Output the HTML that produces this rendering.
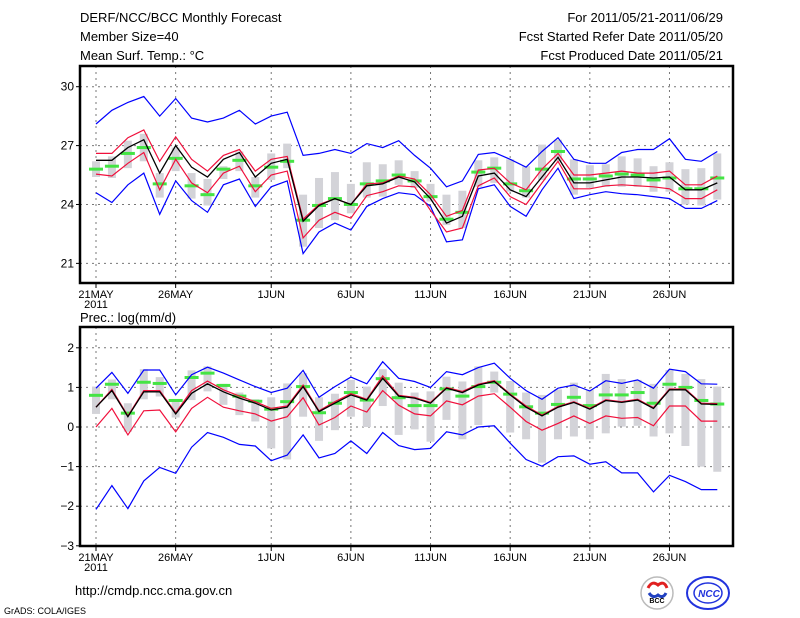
<!DOCTYPE html>
<html><head><meta charset="utf-8"><style>
body{margin:0;background:#fff;width:800px;height:618px;overflow:hidden}
svg{display:block}
text{font-family:"Liberation Sans",sans-serif;fill:#000}
</style></head><body>
<svg id="c" width="800" height="618" xmlns="http://www.w3.org/2000/svg">
<text x="80" y="22" font-size="13">DERF/NCC/BCC Monthly Forecast</text>
<text x="80" y="41" font-size="13">Member Size=40</text>
<text x="80" y="60" font-size="13">Mean Surf. Temp.: °C</text>
<text x="723" y="22" font-size="13" text-anchor="end">For 2011/05/21-2011/06/29</text>
<text x="723" y="41" font-size="13" text-anchor="end">Fcst Started Refer Date 2011/05/20</text>
<text x="723" y="60" font-size="13" text-anchor="end">Fcst Produced Date 2011/05/21</text>
<text x="80" y="322" font-size="13">Prec.: log(mm/d)</text>
<text x="75" y="595" font-size="13">http://cmdp.ncc.cma.gov.cn</text>
<text x="4" y="614" font-size="9">GrADS: COLA/IGES</text>
<g>
<circle cx="657" cy="593" r="16" fill="#fff" stroke="#bbb" stroke-width="1.5"/>
<path d="M648 588 q4 -8 10 -3 q6 -5 9 3" fill="none" stroke="#e02020" stroke-width="3"/>
<path d="M649 593 q4 6 9 2 q5 4 8 -2" fill="none" stroke="#2040c0" stroke-width="3"/>
<text x="657" y="603" font-size="7" text-anchor="middle" font-family="Liberation Serif,serif" font-weight="bold">BCC</text>
</g>
<g>
<ellipse cx="708" cy="593" rx="21" ry="16" fill="#fff" stroke="#2233dd" stroke-width="2"/>
<ellipse cx="708" cy="593" rx="14" ry="10" fill="none" stroke="#2233dd" stroke-width="1.5"/>
<text x="709" y="597" font-size="10" text-anchor="middle" font-style="italic" font-weight="bold" style="fill:#2233dd">NCC</text>
</g>
</svg>
<script>
// ---- Top panel: temperature ----
const days = ["21MAY","","","","","26MAY","","","","","","1JUN","","","","","6JUN","","","","","11JUN","","","","","16JUN","","","","","21JUN","","","","","26JUN","","",""];
const tTicks = [30,27,24,21];
const tBlueUp = [28.1,28.8,29.2,29.5,28.5,29.4,28.4,28.2,28.4,28.8,28.1,28.5,28.7,26.5,26.6,26.8,26.6,27.1,26.9,27.25,26.5,25.85,24.9,25.2,26.55,26.65,26.3,25.9,26.7,27.4,26.3,26.1,26.1,26.65,26.8,26.8,27.35,26.3,26.2,26.7];
const tBlueLo = [24.6,24.1,25.0,25.6,23.5,25.2,24.2,23.6,25.0,25.3,23.9,24.9,25.2,21.5,22.6,23.05,22.7,23.9,24.3,24.6,24.5,23.9,22.1,22.2,24.8,25.0,23.9,23.4,24.75,25.85,24.3,24.5,24.65,24.55,24.5,24.4,24.3,23.8,23.8,24.2];
const tRedUp = [26.6,26.6,27.4,27.8,26.2,27.45,26.3,25.7,26.5,26.8,25.7,26.3,26.45,23.25,24.0,24.3,24.0,25.05,25.1,25.45,25.3,24.5,23.4,23.7,25.75,25.85,25.1,24.75,25.8,26.6,25.5,25.5,25.6,25.7,25.6,25.6,25.7,25.0,25.0,25.45];
const tRedLo = [25.55,25.45,26.1,26.65,24.75,26.3,25.1,24.6,25.6,25.95,24.65,25.5,25.7,22.3,23.2,23.6,23.3,24.45,24.65,24.95,24.9,23.7,22.6,22.8,24.95,25.35,24.4,24.0,25.1,26.2,24.8,24.8,24.95,25.0,24.95,24.9,24.8,24.3,24.3,24.75];
const tMean = [26.25,26.25,26.9,27.3,25.6,27.0,25.9,25.4,26.3,26.65,25.4,26.1,26.3,23.15,23.95,24.3,24.0,24.95,25.05,25.4,25.15,24.3,23.05,23.4,25.45,25.6,24.75,24.4,25.4,26.4,25.1,25.1,25.25,25.4,25.4,25.35,25.4,24.75,24.75,25.1];
const tGreen = [25.8,25.95,26.6,26.9,25.05,26.35,24.95,24.5,25.8,26.25,24.95,25.9,26.2,23.2,23.95,24.3,24.0,25.05,25.2,25.5,25.2,24.4,23.25,23.6,25.65,25.85,25.05,24.7,25.8,26.7,25.3,25.3,25.45,25.55,25.5,25.25,25.35,24.8,24.8,25.35];
const tBoxHi = [26.2,26.45,27.25,27.6,25.6,26.9,25.6,25.3,25.95,26.7,25.4,26.6,27.1,24.5,25.35,25.65,25.05,26.15,26.05,26.25,25.7,25.05,24.5,24.7,26.25,26.4,26.3,25.95,27.05,27.3,26.3,26.0,26.05,26.45,26.35,25.95,26.15,25.8,25.85,26.6];
const tBoxLo = [25.4,25.35,25.85,26.2,24.35,25.7,24.3,23.95,25.3,25.7,24.35,25.25,25.85,21.85,22.8,23.2,23.55,24.35,24.4,25.0,24.85,24.15,22.95,22.8,24.9,25.1,24.65,24.35,25.25,26.2,24.5,24.85,24.9,24.9,24.9,24.65,24.65,24.0,23.95,24.25];
// ---- Bottom panel: precipitation ----
const pTicks = [2,1,0,-1,-2,-3];
const pBlueUp = [0.98,1.38,0.85,1.44,1.44,0.81,1.32,1.51,1.36,1.19,1.02,0.87,0.98,1.43,0.75,1.02,1.26,1.09,1.65,1.23,1.15,1.0,1.4,1.32,1.5,1.61,1.23,0.92,0.7,0.98,1.06,0.91,1.17,1.1,1.19,0.98,1.46,1.4,1.09,1.08];
const pBlueLo = [-2.08,-1.48,-2.06,-1.36,-1.02,-1.17,-0.51,-0.14,-0.26,-0.44,-0.48,-0.85,-0.71,-0.2,-0.78,-0.67,-0.35,-0.67,-0.14,-0.47,-0.57,-0.54,-0.12,-0.2,0.0,0.03,-0.41,-0.82,-0.99,-0.75,-0.73,-0.94,-0.88,-1.16,-1.16,-1.64,-1.22,-1.38,-1.58,-1.58];
const pRedUp = [0.5,0.95,0.28,0.92,0.92,0.36,0.92,1.16,0.94,0.78,0.64,0.47,0.53,1.06,0.41,0.64,0.84,0.7,1.29,0.8,0.75,0.62,1.0,0.9,1.08,1.17,0.83,0.53,0.3,0.52,0.64,0.47,0.69,0.64,0.7,0.49,0.96,0.96,0.6,0.59];
const pMean = [0.5,0.92,0.26,0.89,0.89,0.33,0.85,1.09,0.89,0.73,0.6,0.43,0.5,1.02,0.39,0.6,0.81,0.68,1.23,0.78,0.73,0.6,0.98,0.87,1.06,1.15,0.81,0.5,0.28,0.5,0.62,0.45,0.67,0.62,0.68,0.47,0.94,0.94,0.58,0.57];
const pRedLo = [0.0,0.47,-0.2,0.41,0.43,-0.12,0.47,0.75,0.5,0.41,0.33,0.15,0.26,0.74,0.05,0.24,0.53,0.38,0.92,0.55,0.33,0.28,0.66,0.56,0.78,0.84,0.5,0.14,-0.08,0.09,0.28,0.09,0.28,0.22,0.24,0.03,0.53,0.53,0.15,0.15];
const pGreen = [0.8,1.08,0.35,1.13,1.1,0.67,1.25,1.36,1.05,0.78,0.65,0.45,0.64,1.02,0.36,0.6,0.87,0.68,1.22,0.74,0.54,0.54,0.96,0.78,1.02,1.13,0.83,0.51,0.35,0.57,0.75,0.54,0.81,0.81,0.87,0.6,1.08,1.0,0.67,0.58];
const pBoxHi = [1.02,1.2,0.6,1.46,1.26,0.68,1.43,1.53,1.09,0.87,0.7,0.75,1.1,1.36,0.75,0.84,1.19,1.02,1.46,1.12,0.87,0.9,1.27,1.15,1.53,1.4,1.16,0.87,0.81,0.95,1.12,0.94,1.34,1.21,1.19,1.09,1.44,1.34,1.21,1.02];
const pBoxLo = [0.33,0.7,-0.12,0.7,0.77,0.24,0.68,0.9,0.56,0.3,0.14,-0.54,-0.82,0.26,-0.35,-0.08,0.26,0.0,0.53,-0.2,-0.06,-0.37,0.18,-0.31,0.05,0.87,-0.14,-0.31,-0.9,-0.31,-0.24,-0.31,-0.16,0.01,0.03,-0.24,-0.16,-0.48,-1.0,-1.13];

const svg = document.getElementById('c');
const NS = 'http://www.w3.org/2000/svg';
function mk(tag, attrs, parent){const e=document.createElementNS(NS,tag);for(const k in attrs)e.setAttribute(k,attrs[k]);(parent||svg).appendChild(e);return e;}
const xAt = i => 96 + i*15.93;

function panel(cfg){
  const g = mk('g',{});
  
  
  const y = cfg.y;
  // grid
  cfg.ticks.forEach(t=>{
    const yy=y(t);
    if (yy>cfg.top+2 && yy<cfg.bot-2){
      const l=mk('line',{x1:cfg.left,x2:cfg.right,y1:yy,y2:yy,stroke:'#777','stroke-dasharray':'2,4','stroke-width':1},g);
      
      
    }
    const tx=mk('text',{x:cfg.left-6,y:yy+4,'font-size':12,'text-anchor':'end'},g);
    tx.textContent = t<0 ? '\u2212'+Math.abs(t) : String(t);
    
    
    mk('line',{x1:cfg.left-4,x2:cfg.left,y1:yy,y2:yy,stroke:'#000'},g);
  });
  days.forEach((d,i)=>{
    if(!d) return;
    const xx=xAt(i);
    const l=mk('line',{x1:xx,x2:xx,y1:cfg.top,y2:cfg.bot,stroke:'#777','stroke-dasharray':'2,4','stroke-width':1},g);
    
    
    mk('line',{x1:xx,x2:xx,y1:cfg.bot,y2:cfg.bot+5,stroke:'#000'},g);
    const tx=mk('text',{x:xx,y:cfg.bot+15,'font-size':11,'text-anchor':'middle'},g);
    tx.textContent=d;
    
    
  });
  const yr=mk('text',{x:xAt(0),y:cfg.bot+25,'font-size':11,'text-anchor':'middle'},g);
  yr.textContent='2011';
  
  
  // boxes
  cfg.boxHi.forEach((h,i)=>{
    const y1=y(h), y2=y(cfg.boxLo[i]);
    const r=mk('rect',{x:xAt(i)-4,y:Math.min(y1,y2),width:8,height:Math.abs(y2-y1),fill:'#d3d3d8'},g);
    
    
  });
  cfg.green.forEach((v,i)=>{
    const r=mk('rect',{x:xAt(i)-7,y:y(v)-1.5,width:14,height:3,fill:'#44e444'},g);
    
    
  });
  const line=(arr,col,w,nm)=>{
    const p=mk('polyline',{points:arr.map((v,i)=>xAt(i).toFixed(1)+','+y(v).toFixed(1)).join(' '),fill:'none',stroke:col,'stroke-width':w},g);
    
    
  };
  line(cfg.blueUp,'#0000ff',1.2,'upper-bound-line');
  line(cfg.blueLo,'#0000ff',1.2,'lower-bound-line');
  line(cfg.redUp,'#f0103c',1.2,'upper-confidence-line');
  line(cfg.redLo,'#f0103c',1.2,'lower-confidence-line');
  line(cfg.mean,'#000',1.3,'ensemble-mean-line');
  const f=mk('rect',{x:cfg.left,y:cfg.top,width:cfg.right-cfg.left,height:cfg.bot-cfg.top,fill:'none',stroke:'#000','stroke-width':2.5},g);
  
  
}
panel({name:'temperature-panel',left:80,right:733,top:66,bot:283,ticks:tTicks,
  y:v=>86.7+(30-v)*19.63,boxHi:tBoxHi,boxLo:tBoxLo,green:tGreen,blueUp:tBlueUp,blueLo:tBlueLo,redUp:tRedUp,redLo:tRedLo,mean:tMean});
panel({name:'precipitation-panel',left:80,right:733,top:327,bot:546,ticks:pTicks,
  y:v=>427-v*39.6,boxHi:pBoxHi,boxLo:pBoxLo,green:pGreen,blueUp:pBlueUp,blueLo:pBlueLo,redUp:pRedUp,redLo:pRedLo,mean:pMean});
</script>
</body></html>
